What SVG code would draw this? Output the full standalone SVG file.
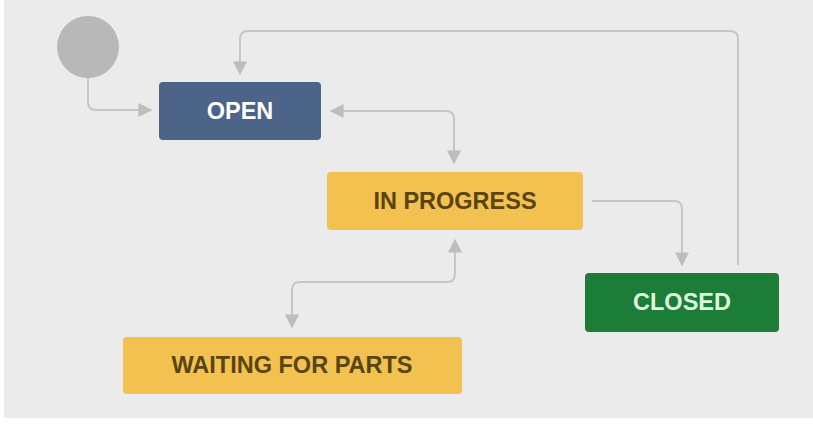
<svg xmlns="http://www.w3.org/2000/svg" width="813" height="427" viewBox="0 0 813 427">
<defs>
<style>
.conn{fill:none;stroke:#c6c6c6;stroke-width:2}
.lbl{font-family:"Liberation Sans",Arial,sans-serif;font-weight:bold;font-size:23.5px;text-anchor:middle;dominant-baseline:central}
.yel{fill:#f2c14f}
.ytxt{fill:#5b4410}
</style>
<marker id="ah2" viewBox="0 0 10 10" refX="9" refY="5" markerWidth="14" markerHeight="14" markerUnits="userSpaceOnUse" orient="auto-start-reverse">
<path d="M0,0 L10,5 L0,10 Z" fill="#bdbdbd"/>
</marker>
</defs>
<rect x="0" y="0" width="813" height="427" fill="#ffffff"/>
<rect x="4" y="0" width="809" height="418" fill="#ebebeb"/>
<g id="connectors">
<path class="conn" d="M88,78 V102 Q88,110 96,110 H151" marker-end="url(#ah2)"/>
<path class="conn" d="M738,265 V39 Q738,31 730,31 H248 Q240,31 240,39 V74" marker-end="url(#ah2)"/>
<path class="conn" d="M331,111 H446 Q454,111 454,119 V163" marker-start="url(#ah2)" marker-end="url(#ah2)"/>
<path class="conn" d="M592,201 H674 Q682,201 682,209 V265" marker-end="url(#ah2)"/>
<path class="conn" d="M455,240 V274 Q455,282 447,282 H300 Q292,282 292,290 V327" marker-start="url(#ah2)" marker-end="url(#ah2)"/>
</g>
<g id="start">
<circle cx="88" cy="47" r="31" fill="#b8b8b8"/>
</g>
<g id="open">
<rect x="159" y="82" width="162" height="58" rx="4" fill="#4b6487"/>
<text class="lbl" x="240" y="111" fill="#ffffff">OPEN</text>
</g>
<g id="inprogress">
<rect class="yel" x="327" y="172" width="256" height="58" rx="4"/>
<text class="lbl ytxt" x="455" y="201">IN PROGRESS</text>
</g>
<g id="closed">
<rect x="585" y="273" width="194" height="59" rx="4" fill="#1b7d38"/>
<text class="lbl" x="682" y="302" fill="#dff5dc">CLOSED</text>
</g>
<g id="waiting">
<rect class="yel" x="123" y="337" width="339" height="57" rx="4"/>
<text class="lbl ytxt" x="292" y="365">WAITING FOR PARTS</text>
</g>
</svg>
